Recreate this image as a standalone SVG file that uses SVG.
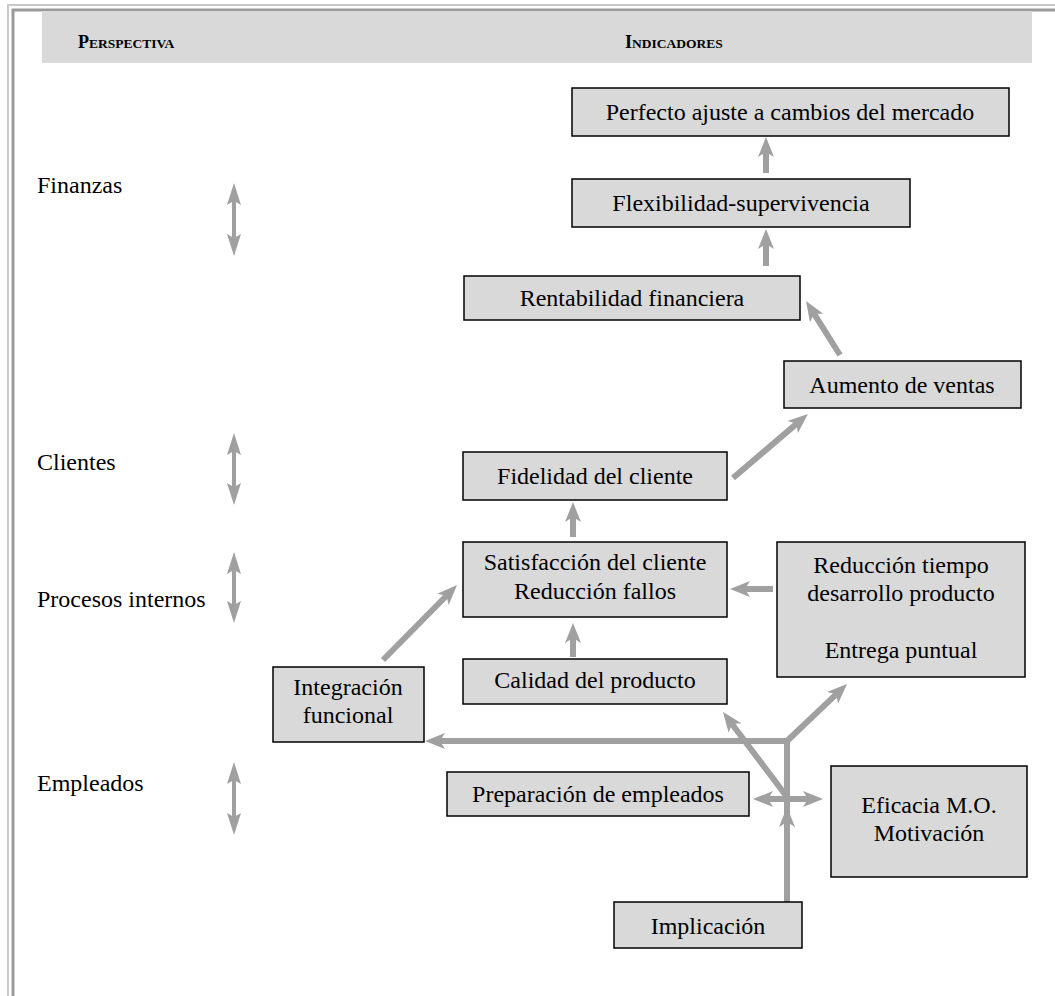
<svg xmlns="http://www.w3.org/2000/svg" width="1055" height="996" viewBox="0 0 1055 996">
  <style>
    .frame-light { stroke: #c8c8c8; stroke-width: 2; fill: none; }
    .frame-dark { stroke: #9a9a9a; stroke-width: 3; fill: none; }
    .header { fill: #d9d9d9; }
    .head-txt { font-family: "Liberation Serif", serif; font-weight: bold; fill: #000; }
    .box { fill: #d9d9d9; stroke: #000; stroke-width: 1.5; }
    .lbl { font-family: "Liberation Serif", serif; font-size: 24px; fill: #000; text-anchor: middle; }
    .side { font-family: "Liberation Serif", serif; font-size: 24px; fill: #000; }
    .conn { stroke: #a0a0a0; stroke-width: 6; fill: none; }
    .conn-thin { stroke: #a0a0a0; stroke-width: 4; fill: none; }
  </style>
  <defs>
    <marker id="head" markerUnits="userSpaceOnUse" viewBox="0 0 20 16" markerWidth="20" markerHeight="16" refX="6" refY="8" orient="auto-start-reverse">
      <path d="M0,0 L20,8 L0,16 L5,8 z" fill="#a0a0a0"/>
    </marker>
    <marker id="head-thin" markerUnits="userSpaceOnUse" viewBox="0 0 22 14" markerWidth="22" markerHeight="14" refX="6" refY="7" orient="auto-start-reverse">
      <path d="M0,0 L22,7 L0,14 L4,7 z" fill="#a0a0a0"/>
    </marker>
  </defs>

  <rect width="1055" height="996" fill="#fff"/>

  <!-- page frame -->
  <path class="frame-light" d="M8,996 V5 H1055"/>
  <path class="frame-dark" d="M13,996 V10 H1055"/>

  <!-- header band -->
  <rect class="header" x="42" y="11" width="990" height="52"/>
  <text class="head-txt" x="78" y="48"><tspan font-size="18">P</tspan><tspan font-size="13.5">ERSPECTIVA</tspan></text>
  <text class="head-txt" x="625" y="48"><tspan font-size="18">I</tspan><tspan font-size="13.5">NDICADORES</tspan></text>

  <!-- perspective labels -->
  <g id="perspectivas">
    <text class="side" x="37" y="193">Finanzas</text>
    <text class="side" x="37" y="470">Clientes</text>
    <text class="side" x="37" y="607">Procesos internos</text>
    <text class="side" x="37" y="791">Empleados</text>
  </g>

  <!-- connectors -->
  <g id="connectors">
    <line class="conn-thin" x1="234" y1="199" x2="234" y2="240" marker-start="url(#head-thin)" marker-end="url(#head-thin)"/>
    <line class="conn-thin" x1="234" y1="449" x2="234" y2="489" marker-start="url(#head-thin)" marker-end="url(#head-thin)"/>
    <line class="conn-thin" x1="234" y1="568" x2="234" y2="607" marker-start="url(#head-thin)" marker-end="url(#head-thin)"/>
    <line class="conn-thin" x1="234" y1="778" x2="234" y2="819" marker-start="url(#head-thin)" marker-end="url(#head-thin)"/>

    <line class="conn" x1="766" y1="173" x2="766" y2="151" marker-end="url(#head)"/>
    <line class="conn" x1="766" y1="266" x2="766" y2="243" marker-end="url(#head)"/>
    <line class="conn" x1="840" y1="355" x2="813.5" y2="312.9" marker-end="url(#head)"/>
    <line class="conn" x1="733" y1="478" x2="797.3" y2="423.1" marker-end="url(#head)"/>
    <line class="conn" x1="573" y1="537" x2="573" y2="516" marker-end="url(#head)"/>
    <line class="conn" x1="573" y1="657" x2="573" y2="637" marker-end="url(#head)"/>
    <line class="conn" x1="773" y1="589" x2="744" y2="589" marker-end="url(#head)"/>
    <line class="conn" x1="383" y1="660" x2="447.2" y2="595" marker-end="url(#head)"/>
    <path class="conn" d="M787,902 V741 H439" marker-end="url(#head)"/>
    <line class="conn" x1="787" y1="741" x2="836.9" y2="693.6" marker-end="url(#head)"/>
    <line class="conn" x1="787" y1="797" x2="731.4" y2="723.2" marker-end="url(#head)"/>
    <line class="conn" x1="767" y1="799" x2="809" y2="799" marker-start="url(#head)" marker-end="url(#head)"/>
    <line class="conn" x1="787" y1="902" x2="787" y2="821" marker-end="url(#head)"/>
  </g>

  <!-- indicator nodes -->
  <g id="perfecto-ajuste">
    <rect class="box" x="572" y="88" width="437" height="48"/>
    <text class="lbl" x="790" y="120">Perfecto ajuste a cambios del mercado</text>
  </g>
  <g id="flexibilidad">
    <rect class="box" x="572" y="179" width="338" height="48"/>
    <text class="lbl" x="741" y="211">Flexibilidad-supervivencia</text>
  </g>
  <g id="rentabilidad">
    <rect class="box" x="464" y="276" width="336" height="44"/>
    <text class="lbl" x="632" y="306">Rentabilidad financiera</text>
  </g>
  <g id="aumento-ventas">
    <rect class="box" x="784" y="361" width="237" height="47"/>
    <text class="lbl" x="902" y="393">Aumento de ventas</text>
  </g>
  <g id="fidelidad">
    <rect class="box" x="463" y="452" width="264" height="48"/>
    <text class="lbl" x="595" y="484">Fidelidad del cliente</text>
  </g>
  <g id="satisfaccion">
    <rect class="box" x="463" y="542" width="264" height="75"/>
    <text class="lbl" x="595" y="570">Satisfacción del cliente</text>
    <text class="lbl" x="595" y="599">Reducción fallos</text>
  </g>
  <g id="calidad">
    <rect class="box" x="463" y="659" width="264" height="45"/>
    <text class="lbl" x="595" y="688">Calidad del producto</text>
  </g>
  <g id="reduccion-tiempo">
    <rect class="box" x="777" y="542" width="248" height="135"/>
    <text class="lbl" x="901" y="573">Reducción tiempo</text>
    <text class="lbl" x="901" y="601">desarrollo producto</text>
    <text class="lbl" x="901" y="658">Entrega puntual</text>
  </g>
  <g id="integracion">
    <rect class="box" x="273" y="667" width="151" height="75"/>
    <text class="lbl" x="348" y="695">Integración</text>
    <text class="lbl" x="348" y="723">funcional</text>
  </g>
  <g id="preparacion">
    <rect class="box" x="447" y="772" width="302" height="44"/>
    <text class="lbl" x="598" y="802">Preparación de empleados</text>
  </g>
  <g id="eficacia">
    <rect class="box" x="831" y="766" width="196" height="111"/>
    <text class="lbl" x="929" y="813">Eficacia M.O.</text>
    <text class="lbl" x="929" y="841">Motivación</text>
  </g>
  <g id="implicacion">
    <rect class="box" x="614" y="902" width="188" height="46"/>
    <text class="lbl" x="708" y="934">Implicación</text>
  </g>
</svg>
